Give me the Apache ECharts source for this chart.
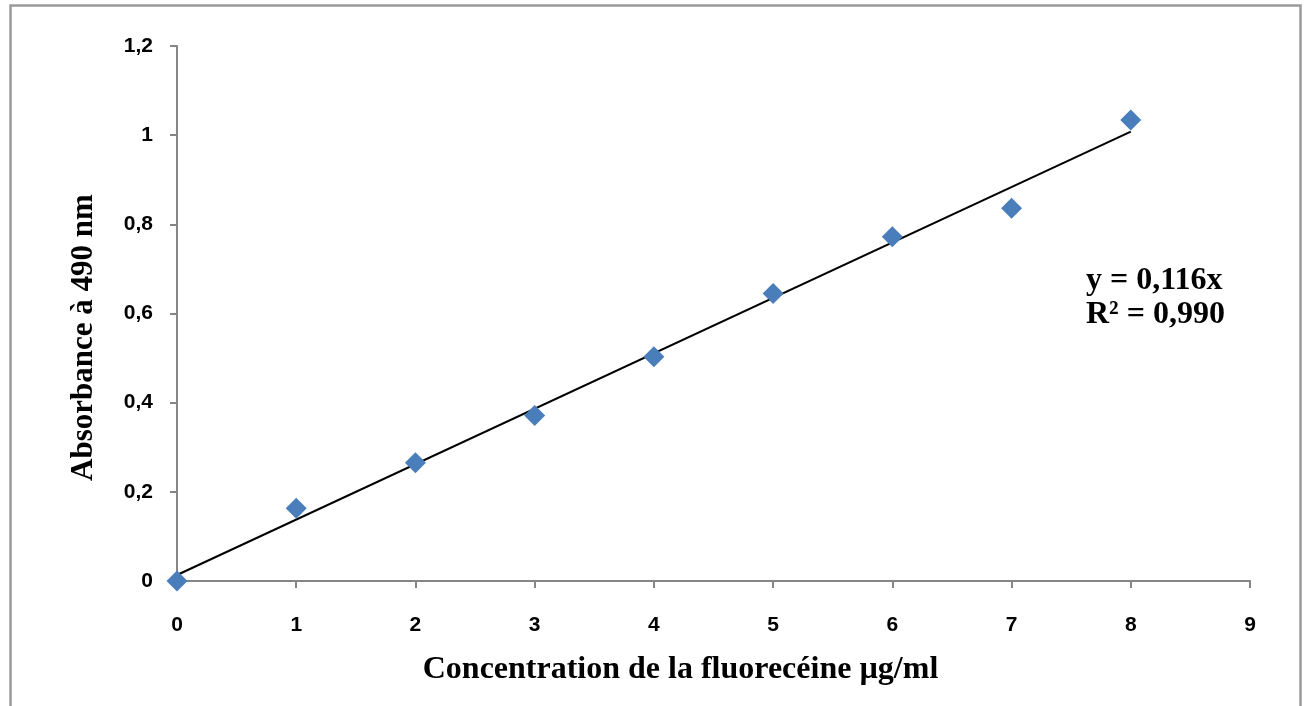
<!DOCTYPE html>
<html><head><meta charset="utf-8">
<script src="https://cdn.jsdelivr.net/npm/echarts@6/dist/echarts.min.js"></script>
<style>html,body{margin:0;padding:0;background:#fff}#c{width:1306px;height:706px}</style>
</head><body><div id="c"></div>
<script>
const concentrations = [0, 1, 2, 3, 4, 5, 6, 7, 8];
const absorbance = [0, 0.163, 0.265, 0.371, 0.503, 0.645, 0.772, 0.836, 1.034];
const trendX = [0, 8];
const trendY = [0.0135, 1.008];
const equationText = 'y = 0,116x';
const r2Text = 'R² = 0,990';
const xTitle = 'Concentration de la fluorecéine µg/ml';
const yTitle = 'Absorbance à 490 nm';

const chart = echarts.init(document.getElementById('c'), null, {renderer: 'canvas'});
const fmt = v => String(Math.round(v * 10) / 10).replace('.', ',');
const axisLine = {show: true, onZero: false, lineStyle: {color: '#868686', width: 2}};
const tickFont = {color: '#000', fontFamily: 'Liberation Sans', fontWeight: 'bold', fontSize: 21};
chart.setOption({
  animation: false,
  backgroundColor: '#fff',
  graphic: [
    {type: 'rect', left: 8, top: 3, shape: {width: 1290, height: 720}, style: {fill: 'none', stroke: '#999', lineWidth: 2.5}, z: 0},
    {type: 'text', left: 1086, top: 264, style: {text: equationText + '\n' + r2Text, font: 'bold 32px "Liberation Serif"', fill: '#000', lineHeight: 34}}
  ],
  grid: {left: 177, right: 56, top: 46, bottom: 125, containLabel: false},
  xAxis: {
    type: 'value', min: 0, max: 9, interval: 1,
    axisLine: axisLine,
    axisTick: {show: true, length: 7, lineStyle: {color: '#868686', width: 2}},
    splitLine: {show: false},
    axisLabel: Object.assign({margin: 34}, tickFont),
    name: xTitle, nameLocation: 'middle', nameGap: 73,
    nameTextStyle: {color: '#000', fontFamily: 'Liberation Serif', fontWeight: 'bold', fontSize: 32, padding: [0, 66, 0, 0]}
  },
  yAxis: {
    type: 'value', min: 0, max: 1.2, interval: 0.2,
    axisLine: axisLine,
    axisTick: {show: true, length: 7, lineStyle: {color: '#868686', width: 2}},
    splitLine: {show: false},
    axisLabel: Object.assign({margin: 24, formatter: fmt}, tickFont),
    name: yTitle, nameLocation: 'middle', nameGap: 78, nameRotate: 90,
    nameTextStyle: {color: '#000', fontFamily: 'Liberation Serif', fontWeight: 'bold', fontSize: 31, padding: [0, 48, 0, 0]}
  },
  series: [
    {
      type: 'line', data: trendX.map((x, i) => [x, trendY[i]]),
      showSymbol: false, symbol: 'none', lineStyle: {color: '#000', width: 2}, z: 2, silent: true
    },
    {
      type: 'scatter', data: concentrations.map((x, i) => [x, absorbance[i]]),
      symbol: 'diamond', symbolSize: [21, 21],
      itemStyle: {color: '#4a7ebb', opacity: 1}, z: 3
    }
  ]
});
</script></body></html>
